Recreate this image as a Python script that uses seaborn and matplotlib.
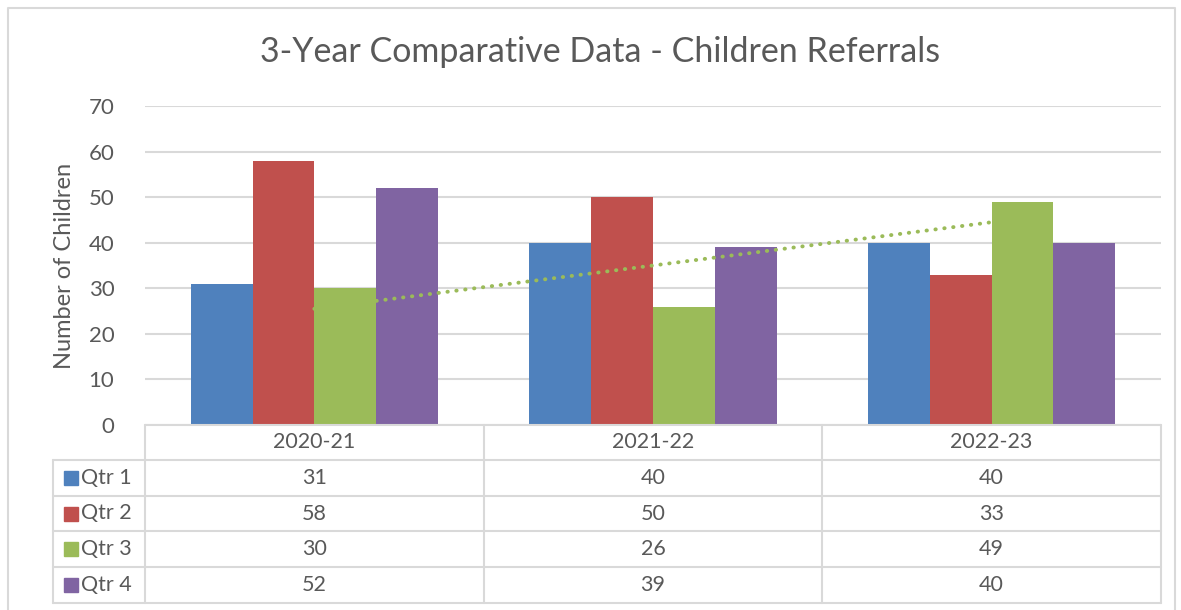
import matplotlib
matplotlib.use('Agg')
import matplotlib.pyplot as plt
import numpy as np
import pandas as pd
import seaborn as sns

# data
years = ['2020-21', '2021-22', '2022-23']
quarters = ['Qtr 1', 'Qtr 2', 'Qtr 3', 'Qtr 4']
qtr1 = [31, 40, 40]
qtr2 = [58, 50, 33]
qtr3 = [30, 26, 49]
qtr4 = [52, 39, 40]
colors = ['#4F81BD', '#C0504D', '#9BBB59', '#8064A2']

values = [qtr1, qtr2, qtr3, qtr4]
df = pd.DataFrame({
    'Year': years * 4,
    'Quarter': [q for q in quarters for _ in years],
    'Value': [v for row in values for v in row],
})

sns.set_style('white')
plt.rcParams['font.family'] = ['Lato', 'DejaVu Sans']
txt = '#595959'
grid = '#D9D9D9'

W, H = 1181, 610
fig = plt.figure(figsize=(W / 100, H / 100), dpi=100)
L, R, T, B = 145, 1161, 106, 425
ax = fig.add_axes([L / W, 1 - B / H, (R - L) / W, (B - T) / H])

sns.barplot(data=df, x='Year', y='Value', hue='Quarter', palette=colors,
            width=0.73, saturation=1, legend=False, ax=ax, zorder=3)
for p in ax.patches:
    p.set_edgecolor('none')

# linear trendline on Qtr 3
xs = np.arange(len(years))
k, b = np.polyfit(xs, qtr3, 1)
ax.plot(xs, k * xs + b, color='#9BBB59', lw=2.8, linestyle=(0, (0.1, 2.2)),
        dash_capstyle='round', zorder=4)

ax.set_xlim(-0.5, 2.5)
ax.set_ylim(0, 70)
ax.set_yticks(range(0, 71, 10))
ax.yaxis.grid(True, color=grid, lw=1.5, zorder=0)
ax.set_axisbelow(True)
for s in ax.spines.values():
    s.set_visible(False)
ax.set_xticks([])
ax.set_xlabel('')
ax.set_ylabel('Number of Children', fontsize=17, color=txt, labelpad=10)
ax.tick_params(axis='y', length=0, labelsize=16, labelcolor=txt, pad=22)

# overlay in pixel coordinates for the border and data table
ov = fig.add_axes([0, 0, 1, 1], zorder=-1)
ov.set_xlim(0, W)
ov.set_ylim(H, 0)
ov.axis('off')
ov.plot([8, 8, 1175, 1175], [615, 8, 8, 615], color=grid, lw=1.5)

fig.text(600 / W, 1 - 52 / H, '3-Year Comparative Data - Children Referrals',
         ha='center', va='center', fontsize=24.5, color=txt)

tab = fig.add_axes([0, 0, 1, 1], zorder=5)
tab.set_xlim(0, W)
tab.set_ylim(H, 0)
tab.axis('off')
tab.patch.set_alpha(0)

rows_y = [425, 460, 496, 531, 567, 603]
left_col = 53
lw_t = 1.5
cols_x = [L + (R - L) * i / len(years) for i in range(len(years) + 1)]
tab.plot([L, R], [rows_y[0], rows_y[0]], color=grid, lw=lw_t)
for y in rows_y[1:]:
    tab.plot([left_col, R], [y, y], color=grid, lw=lw_t)
for x in cols_x:
    tab.plot([x, x], [rows_y[0], rows_y[-1]], color=grid, lw=lw_t)
tab.plot([left_col, left_col], [rows_y[1], rows_y[-1]], color=grid, lw=lw_t)

for i, yr in enumerate(years):
    cx = (cols_x[i] + cols_x[i + 1]) / 2
    tab.text(cx, (rows_y[0] + rows_y[1]) / 2, yr, ha='center', va='center',
             fontsize=15.5, color=txt)
    for j, row in enumerate(values):
        tab.text(cx, (rows_y[j + 1] + rows_y[j + 2]) / 2, str(row[i]),
                 ha='center', va='center', fontsize=15.5, color=txt)

for j, q in enumerate(quarters):
    cy = (rows_y[j + 1] + rows_y[j + 2]) / 2
    tab.add_patch(plt.Rectangle((64, cy - 7), 14, 14, color=colors[j]))
    tab.text(81, cy, q, ha='left', va='center', fontsize=15.5, color=txt)

fig.savefig('out.png', dpi=100)
